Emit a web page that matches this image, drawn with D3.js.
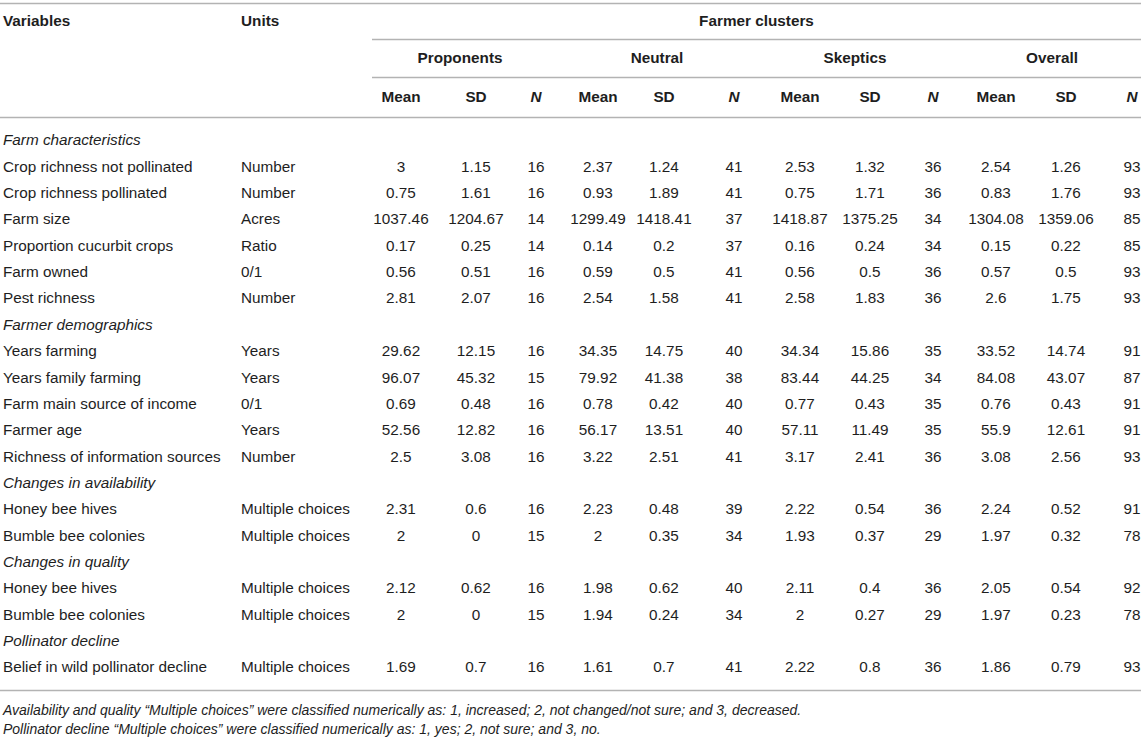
<!DOCTYPE html>
<html>
<head>
<meta charset="utf-8">
<script src="https://cdn.jsdelivr.net/npm/d3@7"></script>
<style>
  body { margin: 0; background: #fff; }
  text { font-family: "Liberation Sans", Arial, Helvetica, sans-serif; fill: #1e1e1e; }
</style>
</head>
<body>
<div id="chart"></div>
<script>
// table content
const groups = ["Proponents", "Neutral", "Skeptics", "Overall"];
const stats = ["Mean", "SD", "N"];

// row labels; section rows have units null
const rowLabels = [
  "Farm characteristics",
  "Crop richness not pollinated",
  "Crop richness pollinated",
  "Farm size",
  "Proportion cucurbit crops",
  "Farm owned",
  "Pest richness",
  "Farmer demographics",
  "Years farming",
  "Years family farming",
  "Farm main source of income",
  "Farmer age",
  "Richness of information sources",
  "Changes in availability",
  "Honey bee hives",
  "Bumble bee colonies",
  "Changes in quality",
  "Honey bee hives",
  "Bumble bee colonies",
  "Pollinator decline",
  "Belief in wild pollinator decline"
];
const units = [
  null, "Number", "Number", "Acres", "Ratio", "0/1", "Number",
  null, "Years", "Years", "0/1", "Years", "Number",
  null, "Multiple choices", "Multiple choices",
  null, "Multiple choices", "Multiple choices",
  null, "Multiple choices"
];

const proponents = [
  null, ["3", "1.15", "16"], ["0.75", "1.61", "16"], ["1037.46", "1204.67", "14"],
  ["0.17", "0.25", "14"], ["0.56", "0.51", "16"], ["2.81", "2.07", "16"],
  null, ["29.62", "12.15", "16"], ["96.07", "45.32", "15"], ["0.69", "0.48", "16"],
  ["52.56", "12.82", "16"], ["2.5", "3.08", "16"],
  null, ["2.31", "0.6", "16"], ["2", "0", "15"],
  null, ["2.12", "0.62", "16"], ["2", "0", "15"],
  null, ["1.69", "0.7", "16"]
];
const neutral = [
  null, ["2.37", "1.24", "41"], ["0.93", "1.89", "41"], ["1299.49", "1418.41", "37"],
  ["0.14", "0.2", "37"], ["0.59", "0.5", "41"], ["2.54", "1.58", "41"],
  null, ["34.35", "14.75", "40"], ["79.92", "41.38", "38"], ["0.78", "0.42", "40"],
  ["56.17", "13.51", "40"], ["3.22", "2.51", "41"],
  null, ["2.23", "0.48", "39"], ["2", "0.35", "34"],
  null, ["1.98", "0.62", "40"], ["1.94", "0.24", "34"],
  null, ["1.61", "0.7", "41"]
];
const skeptics = [
  null, ["2.53", "1.32", "36"], ["0.75", "1.71", "36"], ["1418.87", "1375.25", "34"],
  ["0.16", "0.24", "34"], ["0.56", "0.5", "36"], ["2.58", "1.83", "36"],
  null, ["34.34", "15.86", "35"], ["83.44", "44.25", "34"], ["0.77", "0.43", "35"],
  ["57.11", "11.49", "35"], ["3.17", "2.41", "36"],
  null, ["2.22", "0.54", "36"], ["1.93", "0.37", "29"],
  null, ["2.11", "0.4", "36"], ["2", "0.27", "29"],
  null, ["2.22", "0.8", "36"]
];
const overall = [
  null, ["2.54", "1.26", "93"], ["0.83", "1.76", "93"], ["1304.08", "1359.06", "85"],
  ["0.15", "0.22", "85"], ["0.57", "0.5", "93"], ["2.6", "1.75", "93"],
  null, ["33.52", "14.74", "91"], ["84.08", "43.07", "87"], ["0.76", "0.43", "91"],
  ["55.9", "12.61", "91"], ["3.08", "2.56", "93"],
  null, ["2.24", "0.52", "91"], ["1.97", "0.32", "78"],
  null, ["2.05", "0.54", "92"], ["1.97", "0.23", "78"],
  null, ["1.86", "0.79", "93"]
];
const groupValues = [proponents, neutral, skeptics, overall];

const footnotes = [
  "Availability and quality \u201cMultiple choices\u201d were classified numerically as: 1, increased; 2, not changed/not sure; and 3, decreased.",
  "Pollinator decline \u201cMultiple choices\u201d were classified numerically as: 1, yes; 2, not sure; and 3, no."
];

const width = 1143, height = 737;
const fs = 15.3;
const lineColor = "#b3b3b3";

const svg = d3.select("#chart").append("svg")
  .attr("width", width)
  .attr("height", height);

// layout
const xVar = 3, xUnits = 241, xGroupStart = 372, xRight = 1141;
const groupLabelX = [460, 657, 855, 1052];
const statX = [
  [401, 476, 536],
  [598, 664, 734],
  [800, 870, 933],
  [996, 1066, 1132]
];

// row positions
const y = d3.scaleLinear()
  .domain([0, rowLabels.length - 1])
  .range([140, 667]);

// horizontal rules
const rules = [
  { x1: 0, x2: xRight, y: 3.5 },
  { x1: xGroupStart, x2: xRight, y: 39.5 },
  { x1: xGroupStart, x2: xRight, y: 77.5 },
  { x1: 0, x2: xRight, y: 117.5 },
  { x1: 0, x2: xRight, y: 690.5 }
];
svg.selectAll("line.rule")
  .data(rules)
  .enter()
  .append("line")
  .attr("class", "rule")
  .attr("x1", (d) => d.x1)
  .attr("x2", (d) => d.x2)
  .attr("y1", (d) => d.y)
  .attr("y2", (d) => d.y)
  .attr("stroke", lineColor)
  .attr("stroke-width", 1.6);

// header
const header = svg.append("g")
  .style("font-size", fs + "px")
  .style("font-weight", "bold");

header.append("text").attr("x", xVar).attr("y", 21).attr("dy", "0.35em").text("Variables");
header.append("text").attr("x", xUnits).attr("y", 21).attr("dy", "0.35em").text("Units");
header.append("text")
  .attr("x", (xGroupStart + xRight) / 2)
  .attr("y", 21)
  .attr("dy", "0.35em")
  .attr("text-anchor", "middle")
  .text("Farmer clusters");

header.selectAll(".group-label")
  .data(groups)
  .enter()
  .append("text")
  .attr("class", "group-label")
  .attr("x", (d, i) => groupLabelX[i])
  .attr("y", 58)
  .attr("dy", "0.35em")
  .attr("text-anchor", "middle")
  .text((d) => d);

groups.forEach((g, gi) => {
  header.selectAll(".stat-" + gi)
    .data(stats)
    .enter()
    .append("text")
    .attr("class", "stat-" + gi)
    .attr("x", (d, i) => statX[gi][i])
    .attr("y", 97)
    .attr("dy", "0.35em")
    .attr("text-anchor", "middle")
    .style("font-style", (d) => (d === "N" ? "italic" : "normal"))
    .text((d) => d);
});

// body
const body = svg.append("g").style("font-size", fs + "px");

body.selectAll(".row-label")
  .data(rowLabels)
  .enter()
  .append("text")
  .attr("class", "row-label")
  .attr("x", xVar)
  .attr("y", (d, i) => y(i))
  .attr("dy", "0.35em")
  .style("font-style", (d, i) => (units[i] === null ? "italic" : "normal"))
  .text((d) => d);

body.selectAll(".unit")
  .data(units.map((u, i) => ({ u, i })).filter((d) => d.u !== null))
  .enter()
  .append("text")
  .attr("class", "unit")
  .attr("x", xUnits)
  .attr("y", (d) => y(d.i))
  .attr("dy", "0.35em")
  .text((d) => d.u);

groupValues.forEach((vals, gi) => {
  const cells = [];
  vals.forEach((row, ri) => {
    if (!row) return;
    row.forEach((v, si) => cells.push({ v, ri, si }));
  });
  body.selectAll(".cell-" + gi)
    .data(cells)
    .enter()
    .append("text")
    .attr("class", "cell-" + gi)
    .attr("x", (d) => statX[gi][d.si])
    .attr("y", (d) => y(d.ri))
    .attr("dy", "0.35em")
    .attr("text-anchor", "middle")
    .text((d) => d.v);
});

// footnotes
svg.selectAll(".foot")
  .data(footnotes)
  .enter()
  .append("text")
  .attr("class", "foot")
  .attr("x", xVar)
  .attr("y", (d, i) => 710 + i * 19)
  .attr("dy", "0.35em")
  .style("font-size", "14px")
  .style("font-style", "italic")
  .text((d) => d);
</script>
</body>
</html>
